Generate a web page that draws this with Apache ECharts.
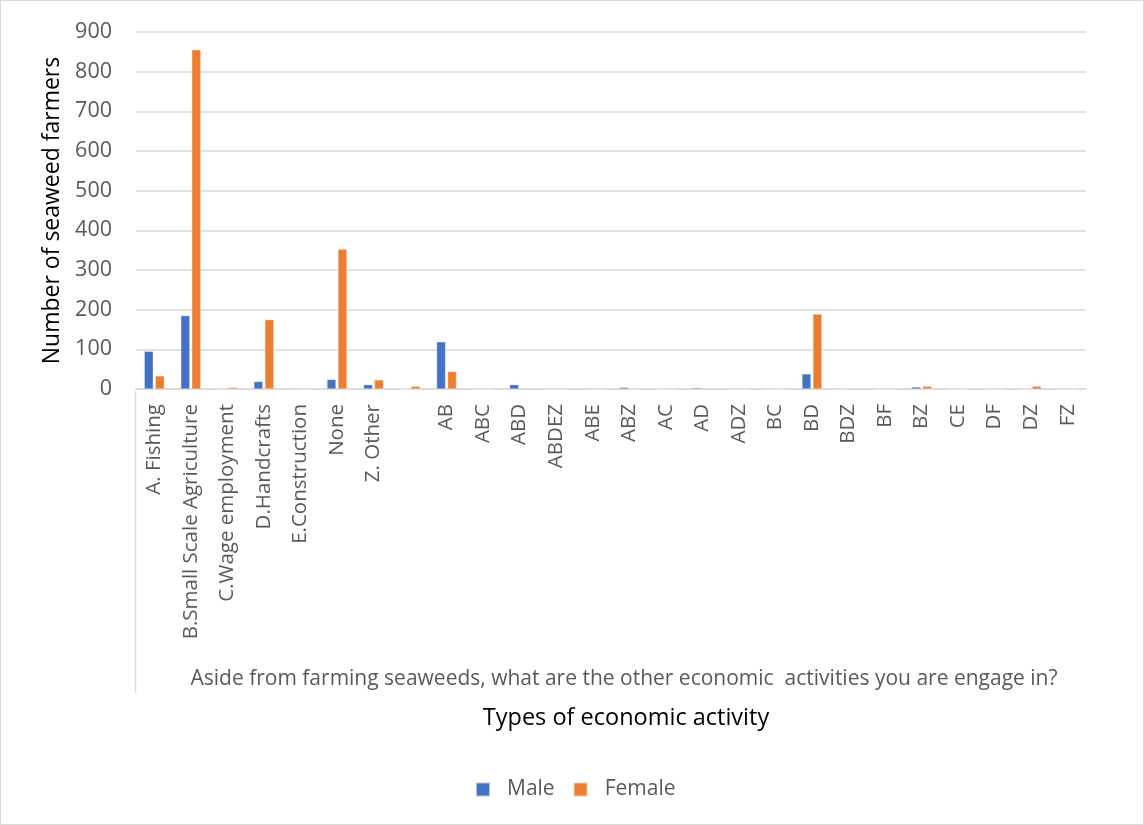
<!DOCTYPE html>
<html>
<head>
<meta charset="utf-8">
<script src="https://cdn.jsdelivr.net/npm/echarts@6/dist/echarts.min.js"></script>
<style>
  html, body { margin: 0; padding: 0; background: #fff; }
  #chart { width: 1144px; height: 825px; box-sizing: border-box; border: 1px solid #d9d9d9; }
</style>
</head>
<body>
<div id="chart"></div>
<script>
// categories on the x axis (one blank slot in the original)
var categories = ['A. Fishing', 'B.Small Scale Agriculture', 'C.Wage employment', 'D.Handcrafts',
  'E.Construction', 'None', 'Z. Other', '', 'AB', 'ABC', 'ABD', 'ABDEZ', 'ABE', 'ABZ', 'AC', 'AD',
  'ADZ', 'BC', 'BD', 'BDZ', 'BF', 'BZ', 'CE', 'DF', 'DZ', 'FZ'];

var maleValues   = [95, 185, 1, 19, 2, 24, 11, 0, 119, 0, 11, 0, 2, 4, 0, 3, 0, 0, 38, 0, 0, 5, 0, 0, 0, 0];
var femaleValues = [33, 855, 4, 175, 0, 352, 23, 7, 44, 0, 2, 0, 0, 0, 0, 2, 0, 0, 189, 2, 0, 7, 0, 0, 7, 0];

var yTicks = { min: 0, max: 900, step: 100 };

var labelColor = '#595959';
var fontFam = '"Open Sans", sans-serif';

var myChart = echarts.init(document.getElementById('chart'));

var option = {
  animation: false,
  color: ['#4472C4', '#ED7D31'],
  grid: { left: 135, right: 57, top: 31, bottom: 435, containLabel: false },
  legend: {
    data: ['Male', 'Female'],
    left: 469,
    top: 773,
    itemWidth: 14,
    itemHeight: 14,
    itemGap: 18,
    icon: 'rect',
    textStyle: { color: labelColor, fontSize: 21, fontFamily: fontFam, padding: [0, 0, 0, 12] }
  },
  xAxis: {
    type: 'category',
    data: categories,
    axisLine: { show: true, lineStyle: { color: '#d9d9d9', width: 1.5 } },
    axisTick: { show: false },
    axisLabel: {
      interval: 0,
      rotate: 90,
      margin: 15,
      color: labelColor,
      fontSize: 20.5,
      fontFamily: fontFam
    }
  },
  yAxis: {
    type: 'value',
    min: yTicks.min,
    max: yTicks.max,
    interval: yTicks.step,
    name: 'Number of seaweed farmers',
    nameLocation: 'middle',
    nameGap: 67,
    nameTextStyle: { color: '#000', fontSize: 23, fontFamily: fontFam },
    axisLine: { show: false },
    axisTick: { show: false },
    axisLabel: { color: labelColor, fontSize: 21.5, fontFamily: fontFam, margin: 24 },
    splitLine: { lineStyle: { color: '#d9d9d9', width: 1.5 } }
  },
  graphic: [
    {
      type: 'line',
      shape: { x1: 134.5, y1: 390, x2: 134.5, y2: 692 },
      style: { stroke: '#d9d9d9', lineWidth: 1.5 }
    },
    {
      type: 'text',
      x: 623, y: 678,
      style: {
        text: 'Aside from farming seaweeds, what are the other economic  activities you are engage in?',
        fill: labelColor, font: '21px ' + fontFam, textAlign: 'center', textVerticalAlign: 'middle'
      }
    },
    {
      type: 'text',
      x: 625, y: 717,
      style: {
        text: 'Types of economic activity',
        fill: '#000', font: '23.5px ' + fontFam, textAlign: 'center', textVerticalAlign: 'middle'
      }
    }
  ],
  series: [
    {
      name: 'Male',
      type: 'bar',
      data: maleValues,
      barWidth: 9,
      barGap: '22%',
      itemStyle: { borderColor: 'rgba(255,255,255,0.6)', borderWidth: 0.5 }
    },
    {
      name: 'Female',
      type: 'bar',
      data: femaleValues,
      barWidth: 9,
      itemStyle: { borderColor: 'rgba(255,255,255,0.6)', borderWidth: 0.5 }
    }
  ]
};

myChart.setOption(option);
</script>
</body>
</html>
